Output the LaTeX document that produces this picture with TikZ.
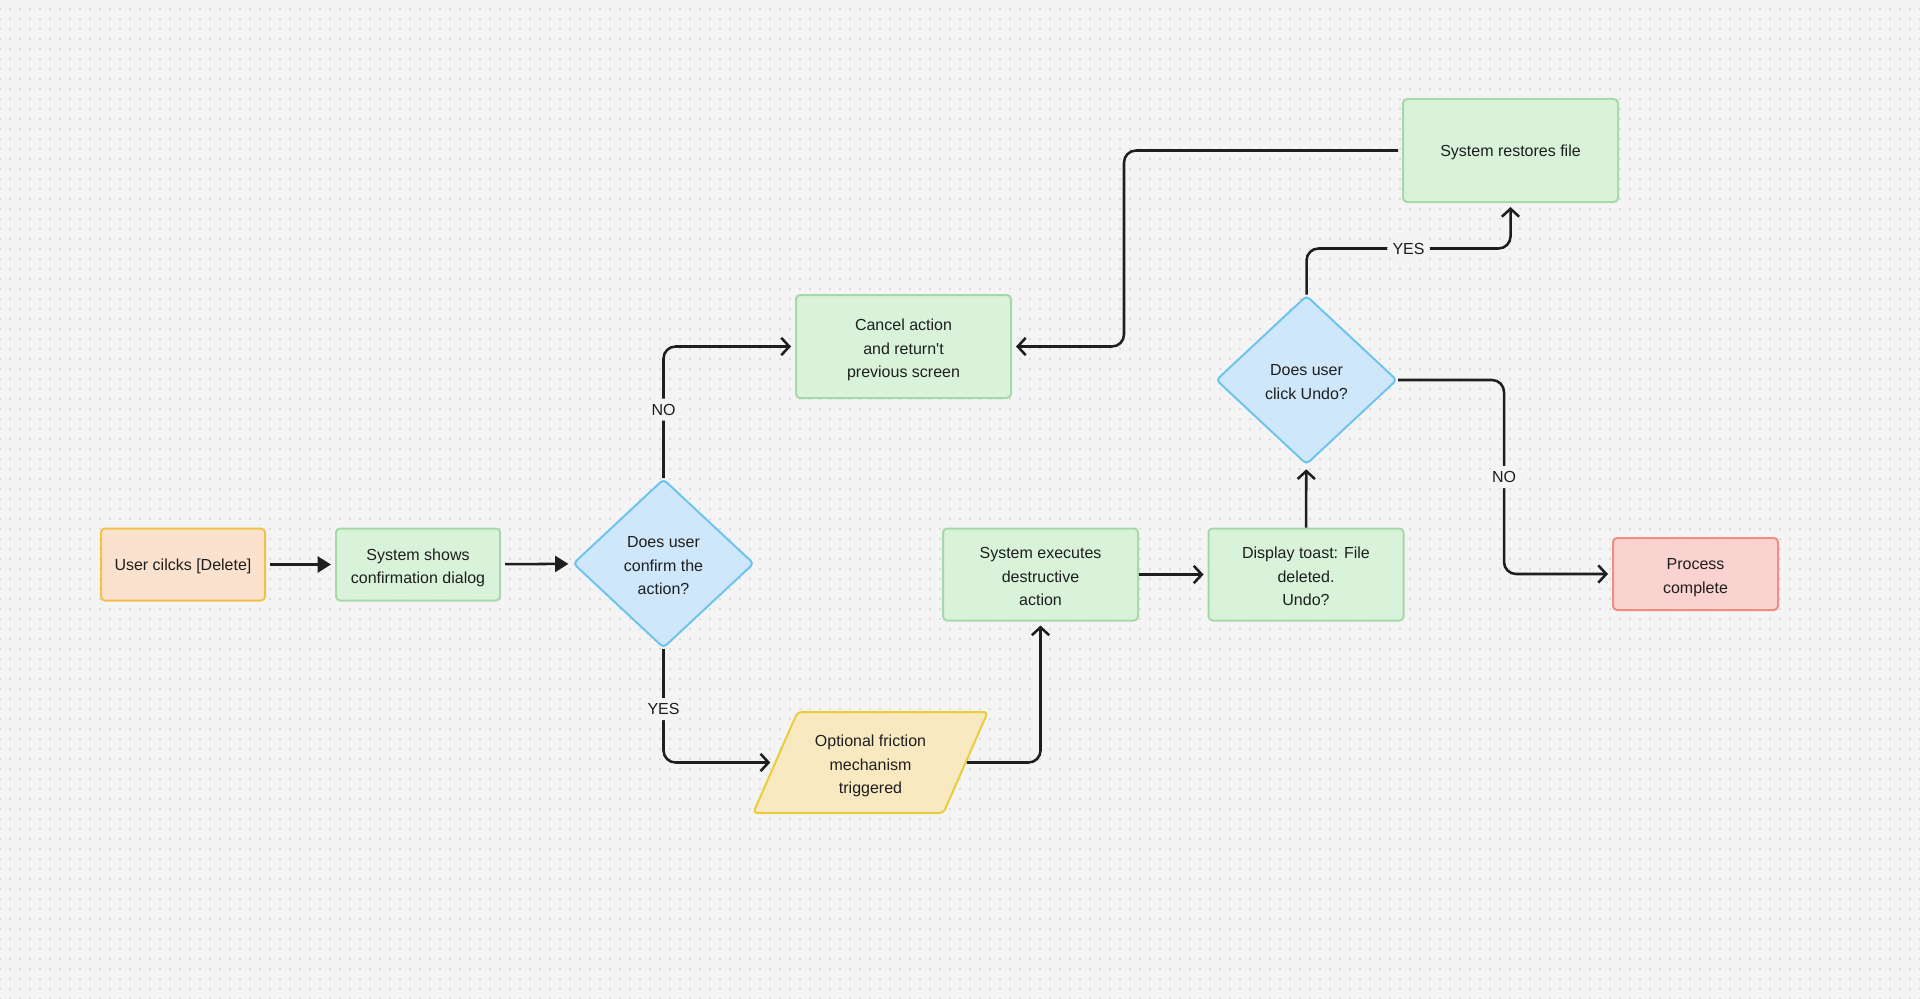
\documentclass[tikz,border=0pt]{standalone}
\usepackage{fontspec}
\setmainfont{Liberation Sans}[Ligatures=TeXOff]
\usetikzlibrary{shapes.geometric,arrows.meta,patterns.meta,calc}
\definecolor{bg}{HTML}{F4F4F4}
\definecolor{dotc}{HTML}{C4C4C4}
\definecolor{txt}{HTML}{1E1E1E}
\definecolor{gfill}{HTML}{D6F3D7}
\definecolor{gline}{HTML}{A6D8A8}
\definecolor{ofill}{HTML}{FCE1CB}
\definecolor{oline}{HTML}{F1C246}
\definecolor{bfill}{HTML}{CCE6FB}
\definecolor{bline}{HTML}{6EC4EF}
\definecolor{yfill}{HTML}{FAE9BC}
\definecolor{yline}{HTML}{E9CD3C}
\definecolor{rfill}{HTML}{FBD0CC}
\definecolor{rline}{HTML}{F08D84}
\newcommand{\botstrutx}{\rule[-4pt]{0pt}{4pt}}
\newcommand{\tx}[1]{\rule{0pt}{12.6pt}#1\botstrutx}
\newcommand{\txm}[1]{\rule{0pt}{15.4pt}#1\botstrutx}
\begin{document}
\begin{tikzpicture}[x=0.75pt,y=-0.75pt,
  txtfont/.style={font=\fontsize{12}{17.5}\selectfont, text=txt},
  box/.style={txtfont, draw, rounded corners=3pt, line width=1.5pt, align=center, inner sep=0pt, fill opacity=0.92, text opacity=1, draw opacity=1},
  greenbox/.style={box, fill=gfill, draw=gline},
  orangebox/.style={box, fill=ofill, draw=oline},
  redbox/.style={box, fill=rfill, draw=rline},
  decision/.style={box, shape=diamond, fill=bfill, draw=bline, minimum width=135.75pt, minimum height=126.75pt, aspect=1.07},
  ioshape/.style={box, shape=trapezium, trapezium left angle=65, trapezium right angle=115, trapezium stretches=true, fill=yfill, draw=yline},
  conn/.style={line width=1.9pt, draw=txt, rounded corners=9pt, -{Straight Barb[length=6pt,width=13pt]}, shorten >=3pt},
  fconn/.style={line width=1.9pt, draw=txt, -{Triangle[length=10pt,width=12pt]}, shorten >=3pt, shorten <=3pt},
  lab/.style={txtfont, fill=bg, inner sep=4pt}
]
\fill[bg] (0,0) rectangle (1920,999);
\fill[pattern={Dots[distance=7.5pt,radius=0.6pt]}, pattern color=dotc] (0,0) rectangle (1920,999);
\useasboundingbox (0,0) rectangle (1920,999);

\node[orangebox, minimum width=123pt, minimum height=54pt] (user) at (183,564.5) {\tx{User cilcks [Delete]}};
\node[greenbox, minimum width=123pt, minimum height=54pt] (show) at (418,564.5) {\txm{System shows\\confirmation dialog}};
\node[decision] (d1) at (663.5,563.5) {\txm{Does user\\confirm the\\action?}};
\node[greenbox, minimum width=161.25pt, minimum height=77.25pt] (cancel) at (903.5,346.5) {\txm{Cancel action\\and return't\\previous screen}};
\node[ioshape, minimum width=176.25pt, minimum height=75.75pt] (fric) at (870.5,762.5) {\txm{Optional friction\\mechanism\\triggered}};
\node[greenbox, minimum width=146.25pt, minimum height=69pt] (exec) at (1040.5,574.5) {\txm{System executes\\destructive\\action}};
\node[greenbox, minimum width=146.25pt, minimum height=69pt] (toast) at (1306,574.5) {\txm{Display toast: File\\deleted.\\Undo?}};
\node[decision] (d2) at (1306.5,380) {\txm{Does user\\click Undo?}};
\node[greenbox, minimum width=161.25pt, minimum height=77.25pt] (restore) at (1510.5,150.5) {\tx{System restores file}};
\node[redbox, minimum width=123.75pt, minimum height=54pt] (done) at (1695.5,574) {\txm{Process\\complete}};

\draw[fconn] (user) -- (show);
\draw[fconn] (show) -- (d1);
\draw[conn] (d1.north) |- node[lab, pos=0.26] (lno1) {NO} (cancel.west);
\draw[conn] (d1.south) |- node[lab, pos=0.265] (lyes1) {YES} (fric.west);
\draw[conn] (fric.east) -| (exec.south);
\draw[conn] (exec) -- (toast);
\draw[conn] (toast) -- (d2);
\draw[conn] (d2.north) -- ([yshift=34.5pt]d2.north) -| node[lab, pos=0.25] (lyes2) {YES} (restore.south);
\draw[conn] (d2.east) -| node[lab, pos=0.75] (lno2) {NO} ([xshift=-81pt]done.west) -- (done.west);
\draw[conn, shorten <=3pt] (restore.west) -| ([xshift=84pt]cancel.east) -- (cancel.east);
\end{tikzpicture}
\end{document}
